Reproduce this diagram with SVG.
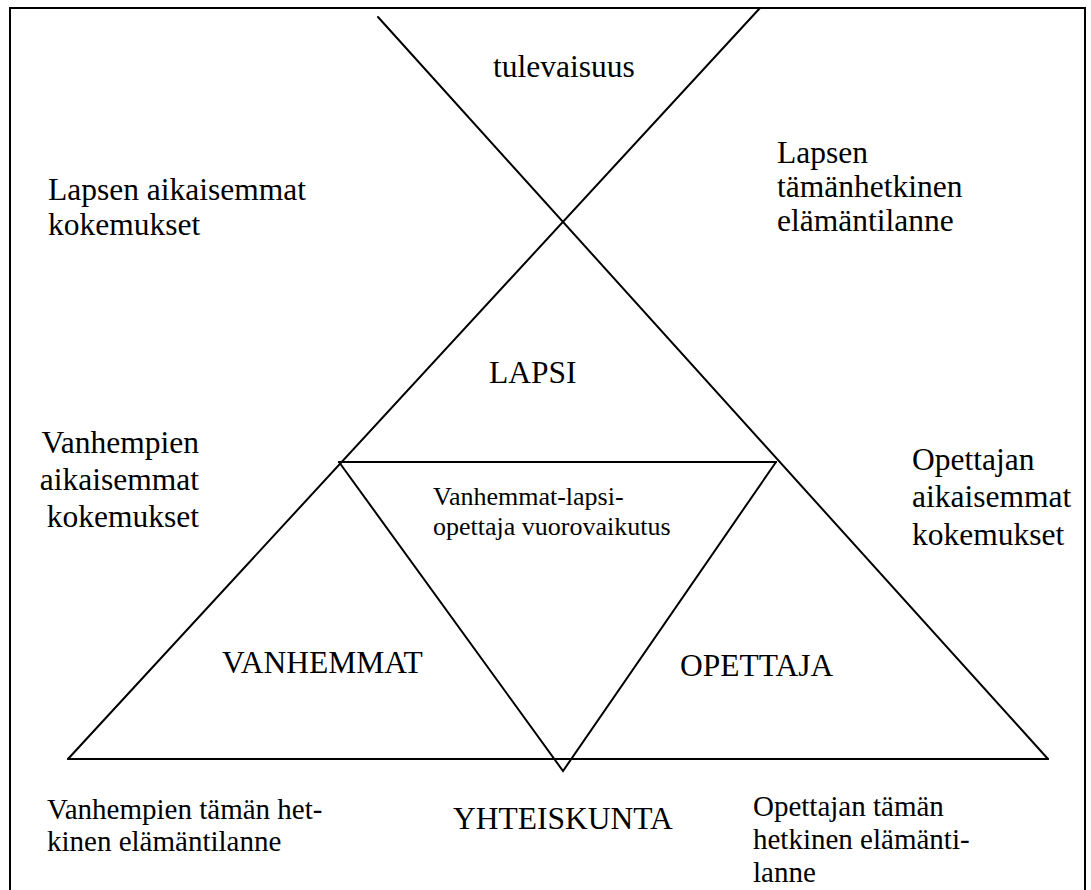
<svg xmlns="http://www.w3.org/2000/svg" width="1091" height="890" viewBox="0 0 1091 890">
<style>
  .ln { stroke: #000; stroke-width: 2; fill: none; stroke-linecap: round; stroke-linejoin: miter; }
  .t { font-family: "Liberation Serif", "Times New Roman", serif; fill: #000; }
  .big { font-size: 31.5px; }
  .mid { font-size: 29px; }
  .sm { font-size: 26px; }
</style>
<rect x="0" y="0" width="1091" height="890" fill="#fff"/>
<g id="frame">
  <path class="ln" d="M10,890 L10,8 L1085,8 L1085,890"/>
</g>
<g id="connectors">
  <line class="ln" x1="378" y1="17" x2="1048" y2="759"/>
  <line class="ln" x1="760" y1="8" x2="68" y2="759"/>
  <line class="ln" x1="339" y1="462" x2="776" y2="462"/>
  <polyline class="ln" points="339,462 563,771 776,462"/>
  <line class="ln" x1="68" y1="759" x2="1048" y2="759"/>
</g>
<g id="tulevaisuus">
  <text class="t big" x="493" y="77">tulevaisuus</text>
</g>
<g id="lapsen-aikaisemmat">
  <text class="t big" x="48" y="200">Lapsen aikaisemmat</text>
  <text class="t big" x="48" y="235">kokemukset</text>
</g>
<g id="lapsen-tamanhetkinen">
  <text class="t big" x="777" y="163">Lapsen</text>
  <text class="t big" x="777" y="197">tämänhetkinen</text>
  <text class="t big" x="777" y="231">elämäntilanne</text>
</g>
<g id="lapsi">
  <text class="t big" x="489" y="383">LAPSI</text>
</g>
<g id="vanhempien-aikaisemmat">
  <text class="t big" x="199" y="453" text-anchor="end">Vanhempien</text>
  <text class="t big" x="199" y="490" text-anchor="end">aikaisemmat</text>
  <text class="t big" x="199" y="527" text-anchor="end">kokemukset</text>
</g>
<g id="opettajan-aikaisemmat">
  <text class="t big" x="912" y="470">Opettajan</text>
  <text class="t big" x="912" y="507">aikaisemmat</text>
  <text class="t big" x="912" y="545">kokemukset</text>
</g>
<g id="vuorovaikutus">
  <text class="t sm" x="433" y="505">Vanhemmat-lapsi-</text>
  <text class="t sm" x="433" y="535">opettaja vuorovaikutus</text>
</g>
<g id="vanhemmat">
  <text class="t big" x="222" y="673">VANHEMMAT</text>
</g>
<g id="opettaja">
  <text class="t big" x="680" y="676">OPETTAJA</text>
</g>
<g id="vanhempien-tilanne">
  <text class="t mid" x="47" y="819">Vanhempien tämän het-</text>
  <text class="t mid" x="47" y="851">kinen elämäntilanne</text>
</g>
<g id="yhteiskunta">
  <text class="t big" x="453" y="829">YHTEISKUNTA</text>
</g>
<g id="opettajan-tilanne">
  <text class="t mid" x="753" y="816">Opettajan tämän</text>
  <text class="t mid" x="753" y="849">hetkinen elämänti-</text>
  <text class="t mid" x="753" y="882">lanne</text>
</g>
</svg>
